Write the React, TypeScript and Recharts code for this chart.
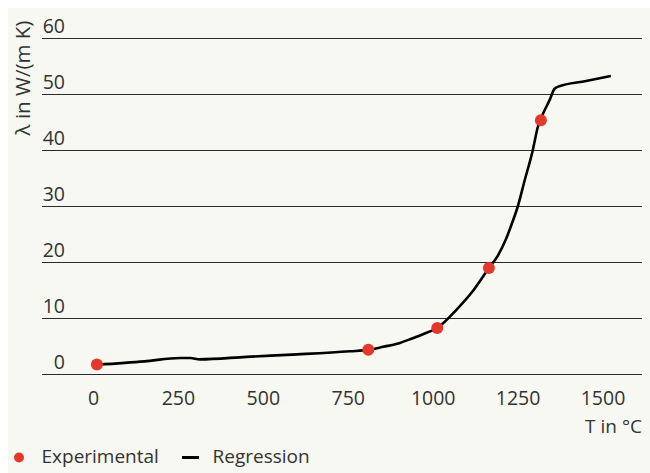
import React from "react"
import { ComposedChart, Line, Scatter, XAxis, YAxis, CartesianGrid } from "recharts"

// experimental measurements (T in °C, lambda in W/(m K))
const expTemps = [10, 809, 1012, 1164, 1317]
const expLambda = [1.8, 4.4, 8.3, 19.0, 45.4]

// regression curve
const regTemps = [10, 150, 255, 285, 313, 450, 600, 755, 809, 853, 900, 932, 970, 1012, 1069, 1118, 1164, 1190, 1215, 1232, 1249, 1269, 1293, 1308, 1325, 1342, 1357, 1368, 1450, 1523]
const regLambda = [1.75, 2.35, 2.95, 2.95, 2.7, 3.15, 3.6, 4.15, 4.4, 4.95, 5.6, 6.3, 7.2, 8.3, 11.6, 15.0, 19.0, 21.2, 24.3, 27.0, 30.0, 34.6, 40.0, 44.2, 46.8, 48.9, 51.0, 51.4, 52.4, 53.3]

const xTicks = [0, 250, 500, 750, 1000, 1250, 1500]
const yTicks = [0, 10, 20, 30, 40, 50, 60]

const expData = expTemps.map((T, i) => ({ T, lambda: expLambda[i] }))
const regData = regTemps.map((T, i) => ({ T, lambda: regLambda[i] }))

const W = 642
const H = 465
const BG = "#f7f8f1"
const TEXT = "#333"
const RED = "#e3382b"
const FONT = "'Open Sans', sans-serif"

const XTick = (props: any) => {
  const { x, y, payload } = props
  return (
    <text x={x} y={y + 30} textAnchor="middle" fill={TEXT} fontSize={19.5} fontFamily={FONT}>
      {payload.value}
    </text>
  )
}

const YTick = (props: any) => {
  const { y, payload } = props
  return (
    <text x={57} y={y - 6} textAnchor="end" fill={TEXT} fontSize={19.5} fontFamily={FONT}>
      {payload.value}
    </text>
  )
}

const Dot = (props: any) => <circle cx={props.cx} cy={props.cy} r={6} fill={RED} />

export default function App() {
  return (
    <div style={{ position: "absolute", left: 8, top: 8, width: W, height: H, background: BG }}>
      <ComposedChart width={W} height={H} margin={{ top: 30.5, right: 8, bottom: 68.5, left: 0 }}>
        <CartesianGrid vertical={false} stroke="#2a2a2a" strokeWidth={1} />
        <XAxis
          type="number"
          dataKey="T"
          domain={[-151.6, 1614.7]}
          ticks={xTicks}
          allowDataOverflow
          height={30}
          tickSize={0}
          tickMargin={0}
          axisLine={false}
          tickLine={false}
          tick={<XTick />}
        />
        <YAxis
          type="number"
          domain={[0, 60]}
          ticks={yTicks}
          width={34}
          tickSize={0}
          tickMargin={0}
          axisLine={false}
          tickLine={false}
          tick={<YTick />}
        />
        <Scatter data={expData} dataKey="lambda" shape={<Dot />} isAnimationActive={false} />
        <Line
          data={regData}
          dataKey="lambda"
          type="monotone"
          stroke="#000"
          strokeWidth={2.6}
          dot={false}
          activeDot={false}
          isAnimationActive={false}
        />
      </ComposedChart>
      <svg width={W} height={H} style={{ position: "absolute", left: 0, top: 0, pointerEvents: "none" }}>
        <text
          transform="translate(22,70) rotate(-90)"
          textAnchor="middle"
          fill={TEXT}
          fontSize={20.5}
          fontFamily={FONT}
        >
          λ in W/(m K)
        </text>
        <text x={634} y={425} textAnchor="end" fill={TEXT} fontSize={19} fontFamily={FONT}>
          T in °C
        </text>
        <circle cx={11} cy={449.5} r={5} fill={RED} />
        <text x={33.5} y={455} fill={TEXT} fontSize={19} fontFamily={FONT}>
          Experimental
        </text>
        <line x1={174} x2={191} y1={449.5} y2={449.5} stroke="#000" strokeWidth={3} />
        <text x={204.5} y={455} fill={TEXT} fontSize={19} fontFamily={FONT}>
          Regression
        </text>
      </svg>
    </div>
  )
}
